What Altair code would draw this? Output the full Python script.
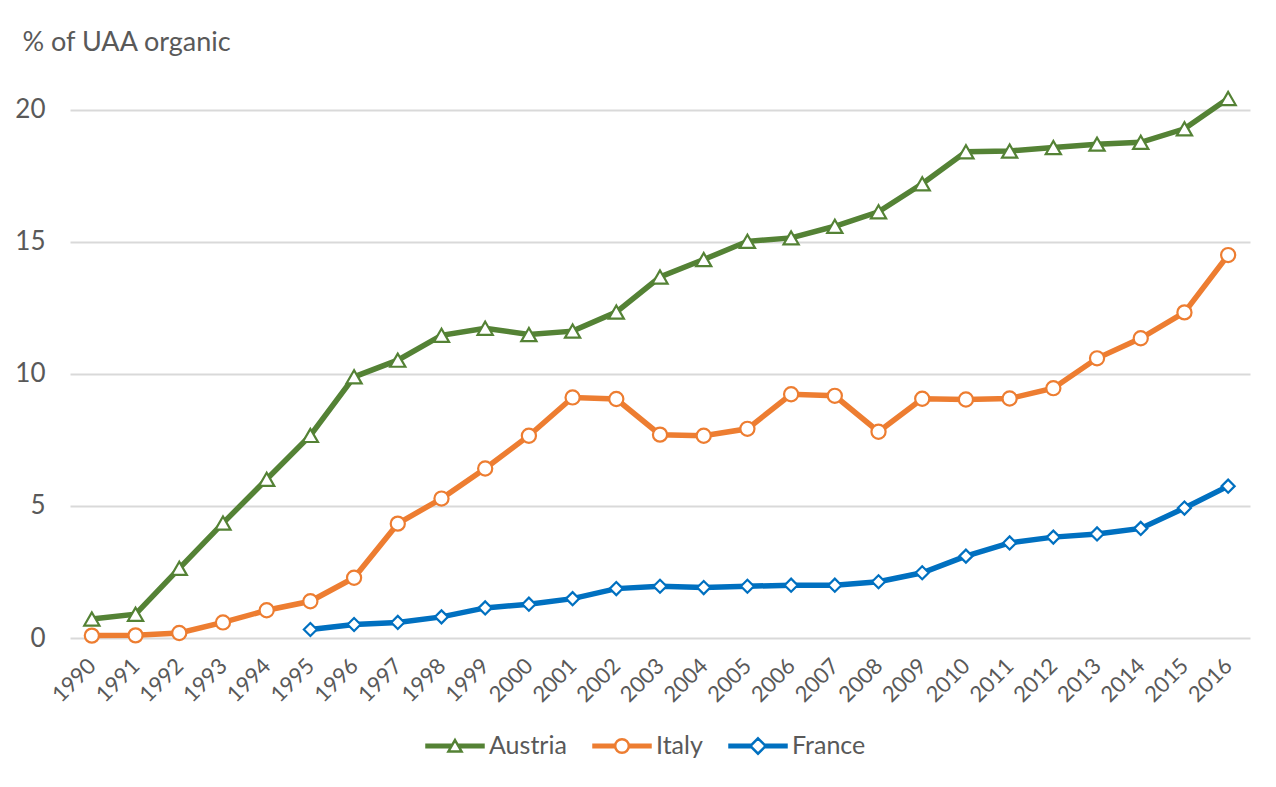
import altair as alt
import pandas as pd

years = [str(y) for y in range(1990, 2017)]
austria = [0.72, 0.90, 2.64, 4.35, 6.01, 7.67, 9.89, 10.52, 11.46, 11.73,
           11.49, 11.62, 12.34, 13.67, 14.33, 15.02, 15.15, 15.59, 16.14, 17.20,
           18.41, 18.44, 18.57, 18.70, 18.77, 19.28, 20.43]
italy = [0.09, 0.10, 0.19, 0.59, 1.05, 1.39, 2.28, 4.33, 5.28, 6.42,
         7.66, 9.11, 9.05, 7.70, 7.66, 7.92, 9.23, 9.17, 7.81, 9.06,
         9.03, 9.07, 9.46, 10.59, 11.35, 12.33, 14.50]
france_years = years[5:]
france = [0.32, 0.51, 0.59, 0.80, 1.14,
          1.28, 1.49, 1.87, 1.96, 1.91, 1.96, 2.00, 2.00, 2.13, 2.47,
          3.10, 3.60, 3.82, 3.94, 4.15, 4.92, 5.75]

series = ["Austria", "Italy", "France"]
colors = ["#548235", "#ED7D31", "#0070C0"]
shapes = ["triangle-up", "circle", "diamond"]
sizes = [230, 170, 220]

rows = []
for y, v in zip(years, austria):
    rows.append({"year": y, "value": v, "country": "Austria"})
for y, v in zip(years, italy):
    rows.append({"year": y, "value": v, "country": "Italy"})
for y, v in zip(france_years, france):
    rows.append({"year": y, "value": v, "country": "France"})
df = pd.DataFrame(rows)

FONT = "Lato"
TXT = "#595959"
GRID = "#D9D9D9"

# legend symbols: line segment + open marker (unit coordinates)
seg_tri = "M-1,-0.045H-0.16V0.045H-1ZM0.16,-0.045H1V0.045H0.16Z"
seg = "M-1,-0.045H-0.24V0.045H-1ZM0.24,-0.045H1V0.045H0.24Z"
tri = "M0,-0.21L0.23,0.19L-0.23,0.19Z"
circ = "M-0.24,0A0.24,0.24 0 1,0 0.24,0A0.24,0.24 0 1,0 -0.24,0Z"
diam = "M0,-0.27L0.27,0L0,0.27L-0.27,0Z"
legend_shapes = [seg_tri + tri, seg + circ, seg + diam]

x_enc = alt.X("year:O", scale=alt.Scale(domain=years, padding=0.5),
              axis=alt.Axis(title=None, labelAngle=-45, labelAlign="right",
                            labelBaseline="middle", labelFont=FONT,
                            labelFontSize=22, labelColor=TXT, labelPadding=24,
                            ticks=False, tickSize=0, domain=False, grid=False))
y_enc = alt.Y("value:Q", scale=alt.Scale(domain=[0, 22], nice=False),
              axis=alt.Axis(title="% of UAA organic", titleAngle=0,
                            titleAlign="left", titleBaseline="middle",
                            titleX=-48, titleY=-15, titleFont=FONT,
                            titleFontSize=27, titleFontWeight="normal",
                            titleColor=TXT, values=[0, 5, 10, 15, 20],
                            labelFont=FONT, labelFontSize=26, labelColor=TXT,
                            labelPadding=25, ticks=False, tickSize=0,
                            domain=False, grid=True, gridColor=GRID,
                            gridWidth=2))

lines = alt.Chart(df).mark_line(strokeWidth=5.5).encode(
    x=x_enc, y=y_enc,
    color=alt.Color("country:N", scale=alt.Scale(domain=series, range=colors),
                    legend=None),
)

points = alt.Chart(df).mark_point(filled=False, fill="white", strokeWidth=2.2,
                                  opacity=1).encode(
    x=x_enc, y=y_enc,
    color=alt.Color("country:N", scale=alt.Scale(domain=series, range=colors),
                    legend=None),
    shape=alt.Shape("country:N", scale=alt.Scale(domain=series, range=shapes),
                    legend=None),
    size=alt.Size("country:N", scale=alt.Scale(domain=series, range=sizes),
                  legend=None),
)

legend_kw = dict(title=None, orient="none", direction="horizontal",
                 legendX=355, legendY=659, columnPadding=21, labelOffset=4,
                 labelFont=FONT, labelFontSize=25, labelColor=TXT,
                 symbolSize=3249, symbolStrokeWidth=2.5,
                 symbolFillColor="white", symbolOpacity=1)

legend_layer = alt.Chart(df).transform_filter("false").mark_point(
    filled=False, fill="white", strokeWidth=2.5, opacity=1).encode(
    x=x_enc, y=y_enc,
    color=alt.Color("country:N", scale=alt.Scale(domain=series, range=colors),
                    legend=alt.Legend(**legend_kw)),
    shape=alt.Shape("country:N",
                    scale=alt.Scale(domain=series, range=legend_shapes),
                    legend=alt.Legend(**legend_kw)),
)

chart = alt.layer(lines, points, legend_layer).resolve_scale(
    color="independent", shape="independent"
).properties(
    width=1180, height=581,
    background="white",
    autosize=alt.AutoSizeParams(type="none"),
    padding={"left": 62, "top": 49, "right": 18, "bottom": 140},
).configure_view(stroke=None, strokeWidth=0)

chart.save("out.html", embed_options={"renderer": "svg", "actions": False})
